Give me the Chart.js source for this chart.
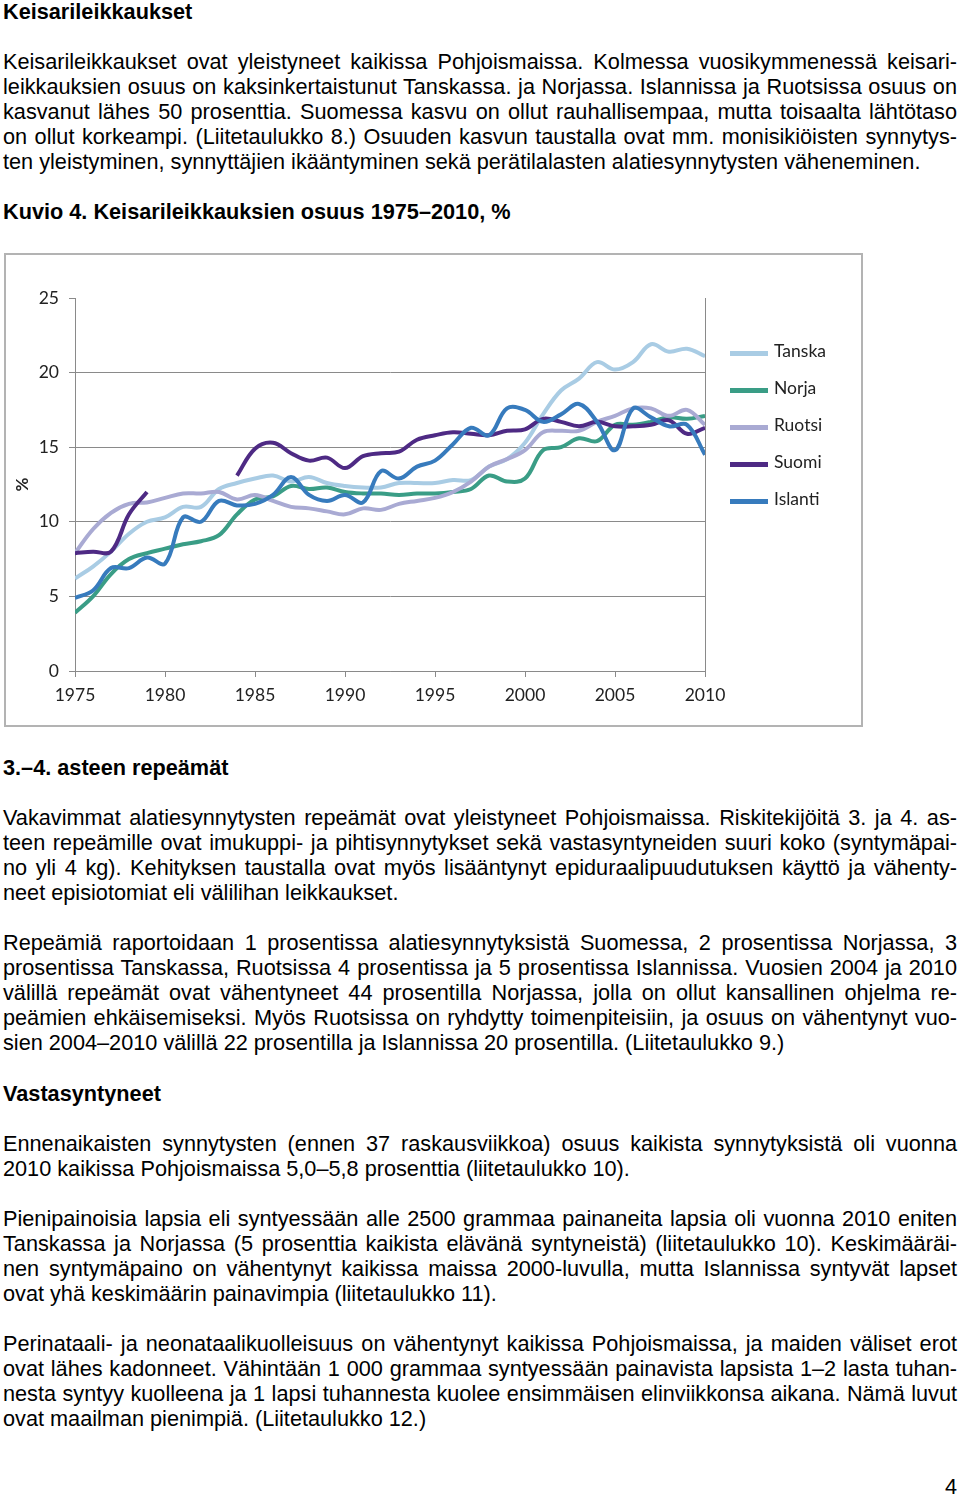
<!DOCTYPE html>
<html>
<head>
<meta charset="utf-8">
<script src="https://cdn.jsdelivr.net/npm/chart.js@4"></script>
<style>
  body { margin: 0; background: #fff; width: 960px; height: 1497px; position: relative; overflow: hidden;
         font-family: "Liberation Sans", Arial, sans-serif; font-size: 21.7px; color: #000; }
  .block { position: absolute; left: 3px; width: 954px; line-height: 25px; }
  .line { white-space: nowrap; height: 25px; }
  .just { text-align: justify; text-align-last: justify; white-space: normal; }
  .bold { font-weight: bold; }
  #chartBox { position: absolute; left: 4px; top: 253px; width: 859px; height: 474px;
              box-sizing: border-box; border: 2px solid #b3b3b3; }
  #chart-container { position: absolute; left: 0; top: 0; }
  .leg { position: absolute; left: 724px; font-family: Lato, sans-serif; font-size: 17.5px; color: #222; }
  .leg span.sw { position: absolute; left: 0; top: 0; width: 38px; height: 5px; }
  .leg span.tx { position: absolute; left: 44px; top: -11px; white-space: nowrap; }
  #pageNo { position: absolute; right: 3px; top: 1474px; font-size: 21.7px; line-height: 25px; }
</style>
</head>
<body>
<div id="text"></div>
<div id="chartBox">
  <canvas id="chart-container" width="855" height="470" style="width:855px;height:470px"></canvas>
  <div id="legend"></div>
</div>
<div id="pageNo">4</div>
<script>
const years = [];
for (let y = 1975; y <= 2010; y++) years.push(y);

const seriesNames = ['Tanska', 'Norja', 'Ruotsi', 'Suomi', 'Islanti'];
const seriesColors = ['#a9cce4', '#3a9d86', '#a9aad3', '#4e2a84', '#377bbd'];

const tanska = [6.2, 7.0, 8.0, 9.2, 10.0, 10.3, 11.0, 11.0, 12.2, 12.6,
    12.9, 13.1, 12.7, 13.0, 12.6, 12.4, 12.3, 12.3, 12.6, 12.6,
    12.6, 12.8, 12.8, 13.7, 14.2, 15.3, 17.2, 18.8, 19.6, 20.7,
    20.2, 20.7, 21.9, 21.4, 21.6, 21.1];
const norja = [3.9, 5.0, 6.5, 7.5, 7.9, 8.2, 8.5, 8.7, 9.1, 10.5,
    11.5, 11.7, 12.4, 12.2, 12.3, 12.0, 11.9, 11.9, 11.8, 11.9,
    11.9, 12.0, 12.2, 13.1, 12.7, 12.9, 14.8, 15.0, 15.6, 15.4,
    16.5, 16.5, 16.7, 17.0, 16.9, 17.1];
const ruotsi = [7.9, 9.5, 10.6, 11.2, 11.3, 11.6, 11.9, 11.9, 12.0, 11.5,
    11.8, 11.4, 11.0, 10.9, 10.7, 10.5, 10.9, 10.8, 11.2, 11.4,
    11.6, 12.0, 12.7, 13.7, 14.2, 14.8, 16.0, 16.1, 16.1, 16.7,
    17.1, 17.6, 17.6, 17.1, 17.5, 16.5];
const suomi = [7.9, 8.0, 8.0, 10.5, 12.0, null, null, null, null, 13.1,
    14.9, 15.3, 14.6, 14.1, 14.3, 13.6, 14.4, 14.6, 14.7, 15.5,
    15.8, 16.0, 15.9, 15.8, 16.1, 16.2, 16.9, 16.7, 16.4, 16.7,
    16.4, 16.4, 16.5, 16.8, 15.9, 16.3];
const islanti = [4.9, 5.4, 6.9, 6.9, 7.6, 7.2, 10.3, 10.0, 11.4, 11.1,
    11.2, 11.8, 13.0, 11.8, 11.4, 11.8, 11.3, 13.4, 12.9, 13.7,
    14.1, 15.2, 16.3, 15.8, 17.6, 17.5, 16.7, 17.2, 17.9, 16.7,
    14.8, 17.6, 17.0, 16.4, 16.5, 14.5];
const seriesValues = [tanska, norja, ruotsi, suomi, islanti];

const yTicks = [0, 5, 10, 15, 20, 25];
const xTicks = [1975, 1980, 1985, 1990, 1995, 2000, 2005, 2010];

// page text, one entry per printed line so the breaks match
const textBlocks = [
    { top: -1, bold: true, lines: ['Keisarileikkaukset'] },
    { top: 49, lines: [
        'Keisarileikkaukset ovat yleistyneet kaikissa Pohjoismaissa. Kolmessa vuosikymmenessä keisari-',
        'leikkauksien osuus on kaksinkertaistunut Tanskassa. ja Norjassa. Islannissa ja Ruotsissa osuus on',
        'kasvanut lähes 50 prosenttia. Suomessa kasvu on ollut rauhallisempaa, mutta toisaalta lähtötaso',
        'on ollut korkeampi. (Liitetaulukko 8.) Osuuden kasvun taustalla ovat mm. monisikiöisten synnytys-',
        'ten yleistyminen, synnyttäjien ikääntyminen sekä perätilalasten alatiesynnytysten väheneminen.'] },
    { top: 199, bold: true, lines: ['Kuvio 4. Keisarileikkauksien osuus 1975–2010, %'] },
    { top: 755, bold: true, lines: ['3.–4. asteen repeämät'] },
    { top: 805, lines: [
        'Vakavimmat alatiesynnytysten repeämät ovat yleistyneet Pohjoismaissa. Riskitekijöitä 3. ja 4. as-',
        'teen repeämille ovat imukuppi- ja pihtisynnytykset sekä vastasyntyneiden suuri koko (syntymäpai-',
        'no yli 4 kg). Kehityksen taustalla ovat myös lisääntynyt epiduraalipuudutuksen käyttö ja vähenty-',
        'neet episiotomiat eli välilihan leikkaukset.'] },
    { top: 930, lines: [
        'Repeämiä raportoidaan 1 prosentissa alatiesynnytyksistä Suomessa, 2 prosentissa Norjassa, 3',
        'prosentissa Tanskassa, Ruotsissa 4 prosentissa ja 5 prosentissa Islannissa. Vuosien 2004 ja 2010',
        'välillä repeämät ovat vähentyneet 44 prosentilla Norjassa, jolla on ollut kansallinen ohjelma re-',
        'peämien ehkäisemiseksi. Myös Ruotsissa on ryhdytty toimenpiteisiin, ja osuus on vähentynyt vuo-',
        'sien 2004–2010 välillä 22 prosentilla ja Islannissa 20 prosentilla. (Liitetaulukko 9.)'] },
    { top: 1081, bold: true, lines: ['Vastasyntyneet'] },
    { top: 1131, lines: [
        'Ennenaikaisten synnytysten (ennen 37 raskausviikkoa) osuus kaikista synnytyksistä oli vuonna',
        '2010 kaikissa Pohjoismaissa 5,0–5,8 prosenttia (liitetaulukko 10).'] },
    { top: 1206, lines: [
        'Pienipainoisia lapsia eli syntyessään alle 2500 grammaa painaneita lapsia oli vuonna 2010 eniten',
        'Tanskassa ja Norjassa (5 prosenttia kaikista elävänä syntyneistä) (liitetaulukko 10). Keskimääräi-',
        'nen syntymäpaino on vähentynyt kaikissa maissa 2000-luvulla, mutta Islannissa syntyvät lapset',
        'ovat yhä keskimäärin painavimpia (liitetaulukko 11).'] },
    { top: 1331, lines: [
        'Perinataali- ja neonataalikuolleisuus on vähentynyt kaikissa Pohjoismaissa, ja maiden väliset erot',
        'ovat lähes kadonneet. Vähintään 1 000 grammaa syntyessään painavista lapsista 1–2 lasta tuhan-',
        'nesta syntyy kuolleena ja 1 lapsi tuhannesta kuolee ensimmäisen elinviikkonsa aikana. Nämä luvut',
        'ovat maailman pienimpiä. (Liitetaulukko 12.)'] }
];

function buildText() {
    const holder = document.getElementById('text');
    textBlocks.forEach(block => {
        const div = document.createElement('div');
        div.className = 'block' + (block.bold ? ' bold' : '');
        div.style.top = block.top + 'px';
        block.lines.forEach((line, i) => {
            const l = document.createElement('div');
            const last = i === block.lines.length - 1;
            l.className = 'line' + (last ? '' : ' just');
            l.textContent = line;
            div.appendChild(l);
        });
        holder.appendChild(div);
    });
}

function buildLegend() {
    const legend = document.getElementById('legend');
    const legendTops = [96, 133, 170, 207, 244];
    seriesNames.forEach((name, i) => {
        const item = document.createElement('div');
        item.className = 'leg';
        item.style.top = legendTops[i] + 'px';
        item.innerHTML = `<span class="sw" style="background:${seriesColors[i]}"></span><span class="tx">${name}</span>`;
        legend.appendChild(item);
    });
}

buildText();
buildLegend();

const tickFont = { family: 'Lato', size: 17.5 };
const gridGray = '#8a8a8a';

new Chart(document.getElementById('chart-container'), {
    type: 'line',
    data: {
        datasets: seriesNames.map((name, i) => ({
            label: name,
            data: seriesValues[i].map((v, j) => ({ x: years[j], y: v })),
            borderColor: seriesColors[i],
            backgroundColor: seriesColors[i],
            borderWidth: 4,
            pointRadius: 0,
            tension: 0.38,
            spanGaps: false,
            order: seriesNames.length - i
        }))
    },
    options: {
        responsive: false,
        animation: false,
        layout: { padding: { top: 43, right: 156, left: 0, bottom: 0 } },
        plugins: { legend: { display: false }, tooltip: { enabled: false } },
        scales: {
            x: {
                type: 'linear',
                min: xTicks[0],
                max: xTicks[xTicks.length - 1],
                afterFit: s => { s.height = 54; },
                afterBuildTicks: s => { s.ticks = xTicks.map(v => ({ value: v })); },
                border: { color: gridGray, width: 1 },
                grid: {
                    color: c => (c.tick && c.tick.value === 2010 ? gridGray : 'rgba(0,0,0,0)'),
                    tickColor: gridGray,
                    tickLength: 6,
                    lineWidth: 1
                },
                ticks: { font: tickFont, color: '#222', padding: 8, maxRotation: 0, callback: v => String(v) }
            },
            y: {
                min: 0,
                max: 25,
                afterFit: s => { s.width = 69; },
                afterBuildTicks: s => { s.ticks = yTicks.map(v => ({ value: v })); },
                border: { color: gridGray, width: 1 },
                grid: {
                    color: c => (c.tick && c.tick.value === 25 ? 'rgba(0,0,0,0)' : gridGray),
                    tickColor: gridGray,
                    tickLength: 6,
                    lineWidth: 1
                },
                ticks: { font: tickFont, color: '#222', padding: 10 },
                title: { display: true, text: '%', font: { family: 'Lato', size: 17, weight: 'bold' },
                         color: '#222', padding: { top: 6, bottom: 0 } }
            }
        }
    }
});
</script>
</body>
</html>
